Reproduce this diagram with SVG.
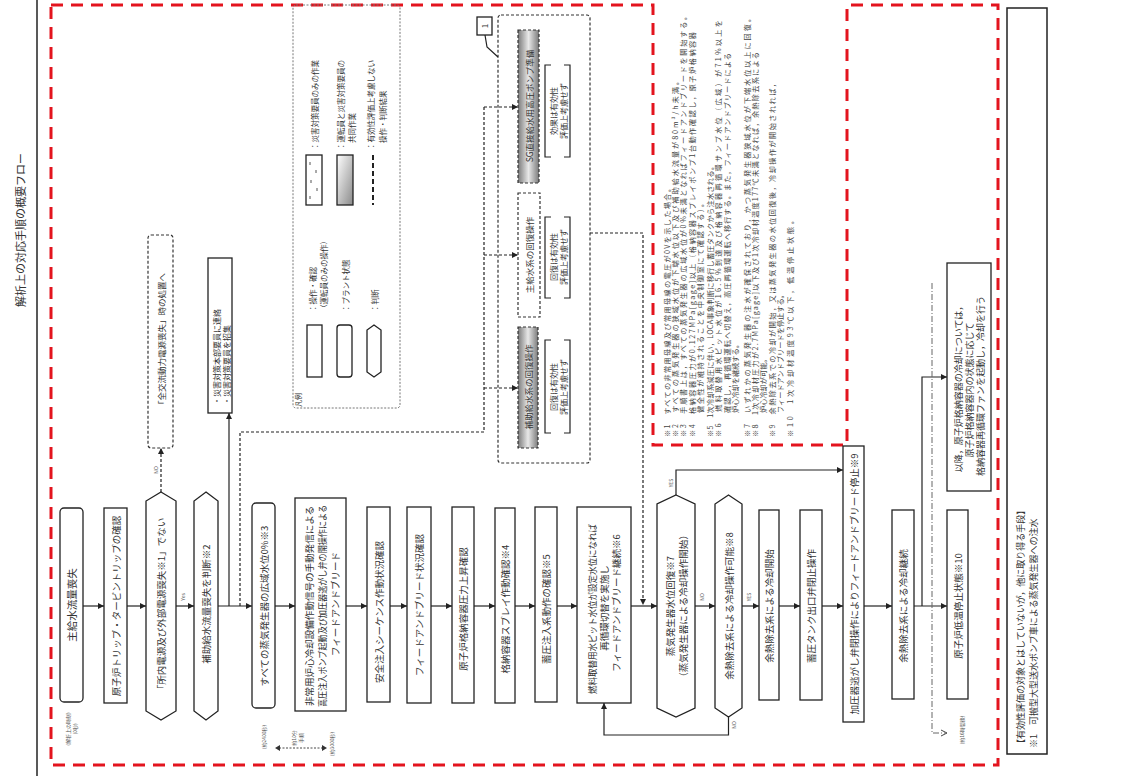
<svg xmlns="http://www.w3.org/2000/svg" width="1145" height="776" viewBox="0 0 1145 776">
<defs>
<style>
text{font-family:"Noto Sans CJK JP","Noto Sans",sans-serif;fill:#333}
.v{font-size:9.5px;text-anchor:middle;dominant-baseline:central}
.n{font-size:7.2px;text-anchor:start;dominant-baseline:central;fill:#444}
.s{font-size:5px;text-anchor:middle;dominant-baseline:central;fill:#555}
.lg{font-size:7.5px;text-anchor:start;dominant-baseline:central}
.box{fill:#fff;stroke:#222;stroke-width:1.3}
.dbox{fill:#fff;stroke:#333;stroke-width:1.2;stroke-dasharray:3 2}
.gbox{fill:url(#gg);stroke:#333;stroke-width:1.2;stroke-dasharray:3 2}
.c{fill:none;stroke:#222;stroke-width:1.2}
.dc{fill:none;stroke:#222;stroke-width:1.2;stroke-dasharray:3 2}
.red{fill:none;stroke:#e3141e;stroke-width:3;stroke-dasharray:12 8}
</style>
<marker id="ah" markerWidth="6" markerHeight="6" refX="6" refY="3" orient="auto" markerUnits="userSpaceOnUse"><path d="M0,0 L6,3 L0,6 z" fill="#222"/></marker>
<linearGradient id="gg" x1="0" y1="0" x2="1" y2="0"><stop offset="0" stop-color="#7a7a7a"/><stop offset="0.5" stop-color="#e8e8e8"/><stop offset="1" stop-color="#7a7a7a"/></linearGradient>
<linearGradient id="lgg" x1="0" y1="0" x2="1" y2="1"><stop offset="0" stop-color="#fff"/><stop offset="1" stop-color="#8a8a8a"/></linearGradient>
</defs>
<rect width="1145" height="776" fill="#fff"/>
<line x1="37" y1="0" x2="37" y2="776" stroke="#222" stroke-width="1.5"/>
<text transform="translate(20,230) rotate(-90)" style="font-size:11px;text-anchor:middle;dominant-baseline:central">解析上の対応手順の概要フロー</text>
<path class="red" d="M51,5 H653 V445 H847 V5 H998 V765 H51 Z"/>

<g id="notes">
<text class="n" transform="translate(667,437) rotate(-90)" textLength="252">※1　すべての非常用母線及び常用母線の電圧が0Vを示した場合。</text>
<text class="n" transform="translate(675,437) rotate(-90)" textLength="359">※2　すべての蒸気発生器の狭域水位が下端水位以下及び補助給水流量が80m³/h未満。</text>
<text class="n" transform="translate(683,437) rotate(-90)" textLength="424">※3　手順書上は，すべての蒸気発生器の広域水位が0%未満となればフィードアンドブリードを開始する。</text>
<text class="n" transform="translate(692,437) rotate(-90)" textLength="405">※4　格納容器圧力が0.127MPa[gage]以上（格納容器スプレイポンプ1台動作確認し，原子炉格納容器</text>
<text class="n" transform="translate(700,413) rotate(-90)" textLength="213">健全性が維持されることを中央制御室にて確認する）。</text>
<text class="n" transform="translate(710,437) rotate(-90)" textLength="274">※5　1次冷却系減圧に伴い，LOCA事象判断に移行し蓄圧タンクから注水される。</text>
<text class="n" transform="translate(718,437) rotate(-90)" textLength="417">※6　燃料取替用水ピット水位が16.5%到達及び格納容器再循環サンプ水位（広域）が71%以上を</text>
<text class="n" transform="translate(727,413) rotate(-90)" textLength="360">確認し，再循環運転へ切替え，高圧再循環運転へ移行する。また，フィードアンドブリードによる</text>
<text class="n" transform="translate(735,413) rotate(-90)">炉心冷却を継続する。</text>
<text class="n" transform="translate(747,437) rotate(-90)" textLength="422">※7　いずれかの蒸気発生器の注水が確保されており，かつ蒸気発生器狭域水位が下端水位以上に回復。</text>
<text class="n" transform="translate(755,437) rotate(-90)" textLength="385">※8　1次冷却材圧力が2.7MPa[gage]以下及び1次冷却材温度177℃未満となれば，余熱除去系による</text>
<text class="n" transform="translate(763,413) rotate(-90)">炉心冷却が可能。</text>
<text class="n" transform="translate(772,437) rotate(-90)" textLength="357">※9　余熱除去系での冷却が開始，又は蒸気発生器の水位回復後，冷却操作が開始されれば，</text>
<text class="n" transform="translate(780,413) rotate(-90)">フィードアンドブリードを停止する。</text>
<text class="n" transform="translate(790,437) rotate(-90)" textLength="220">※10　1次冷却材温度93℃以下，低温停止状態。</text>
</g>

<g id="legend">
<rect x="293" y="5" width="107" height="403" rx="3" fill="none" stroke="#777" stroke-width="1" stroke-dasharray="2 1.5"/>
<text class="lg" transform="translate(298,407) rotate(-90)" style="font-size:7px">凡例</text>
<rect x="307" y="325" width="15" height="52" class="box"/>
<text class="lg" transform="translate(312,312) rotate(-90)">：操作・確認</text>
<text class="lg" transform="translate(323,312) rotate(-90)">（運転員のみの操作）</text>
<rect x="337" y="325" width="15" height="52" rx="3" class="box"/>
<text class="lg" transform="translate(345,312) rotate(-90)">：プラント状態</text>
<polygon points="374,325 381,330 381,372 374,377 367,372 367,330" class="box"/>
<text class="lg" transform="translate(374,312) rotate(-90)">：判断</text>
<rect x="306" y="155" width="16" height="50" class="box"/>
<path d="M310,162 v3 M316,170 v3 M311,180 v3 M317,188 v3 M310,196 v3" stroke="#555" stroke-width="1"/>
<text class="lg" transform="translate(314,150) rotate(-90)">：災害対策要員のみの作業</text>
<rect x="337" y="155" width="16" height="50" fill="url(#lgg)" stroke="#222" stroke-width="1.3"/>
<text class="lg" transform="translate(340,150) rotate(-90)">：運転員と災害対策要員の</text>
<text class="lg" transform="translate(351,143) rotate(-90)">共同作業</text>
<line x1="373" y1="155" x2="373" y2="205" stroke="#222" stroke-width="2" stroke-dasharray="5 3"/>
<text class="lg" transform="translate(370,150) rotate(-90)">：有効性評価上考慮しない</text>
<text class="lg" transform="translate(382,143) rotate(-90)">操作・判断結果</text>
</g>

<g id="group-unconsidered">
<rect x="498" y="15" width="92" height="448" rx="3" fill="none" stroke="#333" stroke-width="1.2" stroke-dasharray="3 2"/>
</g>
<g id="n-sg-pump">
<rect x="518" y="30" width="21" height="153" class="gbox"/>
<text class="v" transform="translate(528.5,106) rotate(-90)" style="font-size:8.5px">SG直接給水用高圧ポンプ準備</text>
<path class="c" d="M551,65 H545 V157 H551 M564,65 H570 V157 H564" />
<text class="v" transform="translate(553,111) rotate(-90)" style="font-size:8px">効果は有効性</text>
<text class="v" transform="translate(563,111) rotate(-90)" style="font-size:8px">評価上考慮せず</text>
</g>
<g id="n-main-fw">
<rect x="518" y="193" width="22" height="124" class="dbox"/>
<text class="v" transform="translate(529,255) rotate(-90)" style="font-size:8.5px">主給水系の回復操作</text>
<path class="c" d="M551,217 H545 V298 H551 M564,217 H570 V298 H564" />
<text class="v" transform="translate(553,257) rotate(-90)" style="font-size:8px">回復は有効性</text>
<text class="v" transform="translate(563,257) rotate(-90)" style="font-size:8px">評価上考慮せず</text>
</g>
<g id="n-aux-fw">
<rect x="518" y="327" width="20" height="121" class="gbox"/>
<text class="v" transform="translate(528,387) rotate(-90)" style="font-size:8.5px">補助給水系の回復操作</text>
<path class="c" d="M551,340 H545 V433 H551 M564,340 H570 V433 H564" />
<text class="v" transform="translate(553,387) rotate(-90)" style="font-size:8px">回復は有効性</text>
<text class="v" transform="translate(563,387) rotate(-90)" style="font-size:8px">評価上考慮せず</text>
</g>
<g id="callout">
<rect x="477" y="17" width="15" height="18" class="box"/>
<text class="v" transform="translate(484.5,26) rotate(-90)" style="font-size:8px">1</text>
</g>

<g id="n-sbo">
<rect x="148" y="235" width="25" height="213" rx="3" class="dbox"/>
<text class="v" transform="translate(160.5,341) rotate(-90)" style="font-size:8.5px">「全交流動力電源喪失」時の処置へ</text>
</g>
<g id="n-contact">
<rect x="208" y="258" width="24" height="155" class="box"/>
<text class="lg" transform="translate(216,405) rotate(-90)" style="font-size:8px">・災害対策本部要員に連絡</text>
<text class="lg" transform="translate(226,405) rotate(-90)" style="font-size:8px">・災害対策要員を招集</text>
</g>

<g id="n1"><rect x="60" y="508" width="23" height="194" rx="4" class="box"/><text class="v" transform="translate(71.5,605) rotate(-90)" style="font-size:10.5px">主給水流量喪失</text></g>
<g id="n2"><rect x="104" y="508" width="23" height="195" class="box"/><text class="v" transform="translate(115.5,606) rotate(-90)">原子炉トリップ・タービントリップの確認</text></g>
<g id="n3"><polygon points="161,492 176,501 176,711 161,720 146,711 146,501" class="box"/><text class="v" transform="translate(161,606) rotate(-90)">「所内電源及び外部電源喪失※1」でない</text></g>
<g id="n4"><polygon points="206,492 218,501 218,711 206,720 194,711 194,501" class="box"/><text class="v" transform="translate(206,604) rotate(-90)">補助給水流量喪失を判断※2</text></g>
<g id="n5"><rect x="252" y="503" width="23" height="205" rx="4" class="box"/><text class="v" transform="translate(263.5,606) rotate(-90)">すべての蒸気発生器の広域水位0%※3</text></g>
<g id="n6"><rect x="295" y="498" width="51" height="213" class="box"/>
<text class="v" transform="translate(309,606) rotate(-90)" textLength="200" lengthAdjust="spacingAndGlyphs">非常用炉心冷却設備作動信号の手動発信による</text>
<text class="v" transform="translate(322,606) rotate(-90)" textLength="202" lengthAdjust="spacingAndGlyphs">高圧注入ポンプ起動及び加圧器逃がし弁の開操作による</text>
<text class="v" transform="translate(335,604) rotate(-90)">フィードアンドブリード</text></g>
<g id="n7"><rect x="367" y="507" width="23" height="195" class="box"/><text class="v" transform="translate(378.5,612) rotate(-90)">安全注入シーケンス作動状況確認</text></g>
<g id="n8"><rect x="407" y="507" width="24" height="196" class="box"/><text class="v" transform="translate(419,605) rotate(-90)">フィードアンドブリード状況確認</text></g>
<g id="n9"><rect x="452" y="507" width="22" height="196" class="box"/><text class="v" transform="translate(463,609) rotate(-90)">原子炉格納容器圧力上昇確認</text></g>
<g id="n10"><rect x="495" y="508" width="20" height="195" class="box"/><text class="v" transform="translate(505,609) rotate(-90)">格納容器スプレイ作動確認※4</text></g>
<g id="n11"><rect x="535" y="507" width="22" height="195" class="box"/><text class="v" transform="translate(546,609) rotate(-90)">蓄圧注入系動作の確認※5</text></g>
<g id="n12"><rect x="577" y="507" width="54" height="196" class="box"/>
<text class="v" transform="translate(592,609) rotate(-90)" textLength="170" lengthAdjust="spacingAndGlyphs">燃料取替用水ピット水位が設定水位になれば</text>
<text class="v" transform="translate(604,608) rotate(-90)">再循環切替を実施し</text>
<text class="v" transform="translate(616,603) rotate(-90)">フィードアンドブリード継続※6</text></g>
<g id="n13"><polygon points="676,495 695,504 695,708 676,717 657,708 657,504" class="box"/>
<text class="v" transform="translate(670,606) rotate(-90)">蒸気発生器水位回復※7</text>
<text class="v" transform="translate(683,606) rotate(-90)">（蒸気発生器による冷却操作開始）</text></g>
<g id="n14"><polygon points="728.5,495 742,504 742,708 728.5,717 715,708 715,504" class="box"/><text class="v" transform="translate(728.5,606) rotate(-90)">余熱除去系による冷却操作可能※8</text></g>
<g id="n15"><rect x="759" y="510" width="20" height="190" class="box"/><text class="v" transform="translate(769,606) rotate(-90)">余熱除去系による冷却開始</text></g>
<g id="n16"><rect x="800" y="510" width="22" height="190" class="box"/><text class="v" transform="translate(811,606) rotate(-90)">蓄圧タンク出口弁閉止操作</text></g>
<g id="n17"><rect x="843" y="446" width="21" height="276" class="box"/><text class="v" transform="translate(853.5,584) rotate(-90)">加圧器逃がし弁閉操作によりフィードアンドブリード停止※9</text></g>
<g id="n18"><rect x="892" y="510" width="22" height="189" class="box"/><text class="v" transform="translate(903,606) rotate(-90)">余熱除去系による冷却継続</text></g>
<g id="n19"><rect x="947" y="510" width="21" height="189" class="box"/><text class="v" transform="translate(957.5,606) rotate(-90)">原子炉低温停止状態※10</text></g>
<g id="n20"><rect x="947" y="263" width="44" height="228" class="box"/>
<text class="v" transform="translate(958,387) rotate(-90)" style="font-size:9px">以降，原子炉格納容器の冷却については，</text>
<text class="v" transform="translate(969,390) rotate(-90)" style="font-size:9px">原子炉格納容器内の状態に応じて</text>
<text class="v" transform="translate(980,386) rotate(-90)" style="font-size:9px">格納容器再循環ファンを起動し，冷却を行う</text></g>
<g id="n-other">
<rect x="1007" y="8" width="40" height="746" fill="#fff" stroke="#222" stroke-width="1.5"/>
<text class="lg" transform="translate(1020,748) rotate(-90)" style="font-size:9px">【有効性評価の対象とはしていないが，他に取り得る手段】</text>
<text class="lg" transform="translate(1033,748) rotate(-90)" style="font-size:9px">※1　可搬型大型送水ポンプ車による蒸気発生器への注水</text>
</g>

<g id="connectors">
<path class="c" marker-end="url(#ah)" d="M83,606 H104"/>
<path class="c" marker-end="url(#ah)" d="M127,606 H146"/>
<path class="c" marker-end="url(#ah)" d="M176,606 H194"/>
<path class="c" marker-end="url(#ah)" d="M218,606 H252"/>
<path class="c" marker-end="url(#ah)" d="M275,606 H295"/>
<path class="c" marker-end="url(#ah)" d="M346,606 H367"/>
<path class="c" marker-end="url(#ah)" d="M390,606 H407"/>
<path class="c" marker-end="url(#ah)" d="M431,606 H452"/>
<path class="c" marker-end="url(#ah)" d="M474,606 H495"/>
<path class="c" marker-end="url(#ah)" d="M515,606 H535"/>
<path class="c" marker-end="url(#ah)" d="M557,606 H577"/>
<path class="c" marker-end="url(#ah)" d="M631,606 H657"/>
<path class="c" marker-end="url(#ah)" d="M695,606 H715"/>
<path class="c" marker-end="url(#ah)" d="M742,606 H759"/>
<path class="c" marker-end="url(#ah)" d="M779,606 H800"/>
<path class="c" marker-end="url(#ah)" d="M822,606 H843"/>
<path class="c" marker-end="url(#ah)" d="M864,606 H892"/>
<path class="c" marker-end="url(#ah)" d="M914,606 H947"/>
<path class="c" marker-end="url(#ah)" d="M922,606 V377 H947"/>
<path class="c" marker-end="url(#ah)" d="M676,495 V470 H843"/>
<path class="c" marker-end="url(#ah)" d="M728.5,717 V735 H604 V703"/>
<path class="dc" marker-end="url(#ah)" d="M161,492 V448"/>
<path class="c" marker-end="url(#ah)" d="M229,606 V413"/>
<path class="dc" d="M240,606 V432 H484 V107"/>
<path class="dc" marker-end="url(#ah)" d="M484,107 H518"/>
<path class="dc" marker-end="url(#ah)" d="M484,255 H518"/>
<path class="dc" marker-end="url(#ah)" d="M484,388 H518"/>
<path class="dc" marker-end="url(#ah)" d="M590,233 H643 V605"/>
<path class="c" d="M485,35 L487,47 L498,57"/>
<path fill="none" stroke="#666" stroke-width="1" stroke-dasharray="6 2 1 2" d="M932,283 V733 H945"/>
<path d="M941,730 L947,733 L941,736" fill="none" stroke="#444" stroke-width="1"/>
<path fill="none" stroke="#333" stroke-width="0.9" stroke-dasharray="2 1.5" d="M279,748 H323"/>
<path d="M280,745 L275,748 L280,751 Z M322,745 L327,748 L322,751 Z" fill="#333"/>
</g>

<g id="labels">
<text class="s" transform="translate(182,597) rotate(-90)">Yes</text>
<text class="s" transform="translate(155,470) rotate(-90)">NO</text>
<text class="s" transform="translate(670,483) rotate(-90)">YES</text>
<text class="s" transform="translate(701,597) rotate(-90)">NO</text>
<text class="s" transform="translate(748,597) rotate(-90)">YES</text>
<text class="s" transform="translate(733,725) rotate(-90)">NO</text>
<text class="s" transform="translate(67,729) rotate(-90)">(解析上の時刻)</text>
<text class="s" transform="translate(74,729) rotate(-90)">(0秒)</text>
<text class="s" transform="translate(263,737) rotate(-90)">(約2400秒)</text>
<text class="s" transform="translate(293,738) rotate(-90)">約10分</text>
<text class="s" transform="translate(300,738) rotate(-90)">手順</text>
<text class="s" transform="translate(331,744) rotate(-90)">(約3000秒)</text>
<text class="s" transform="translate(961,730) rotate(-90)">(約16時間後)</text>
</g>
</svg>
